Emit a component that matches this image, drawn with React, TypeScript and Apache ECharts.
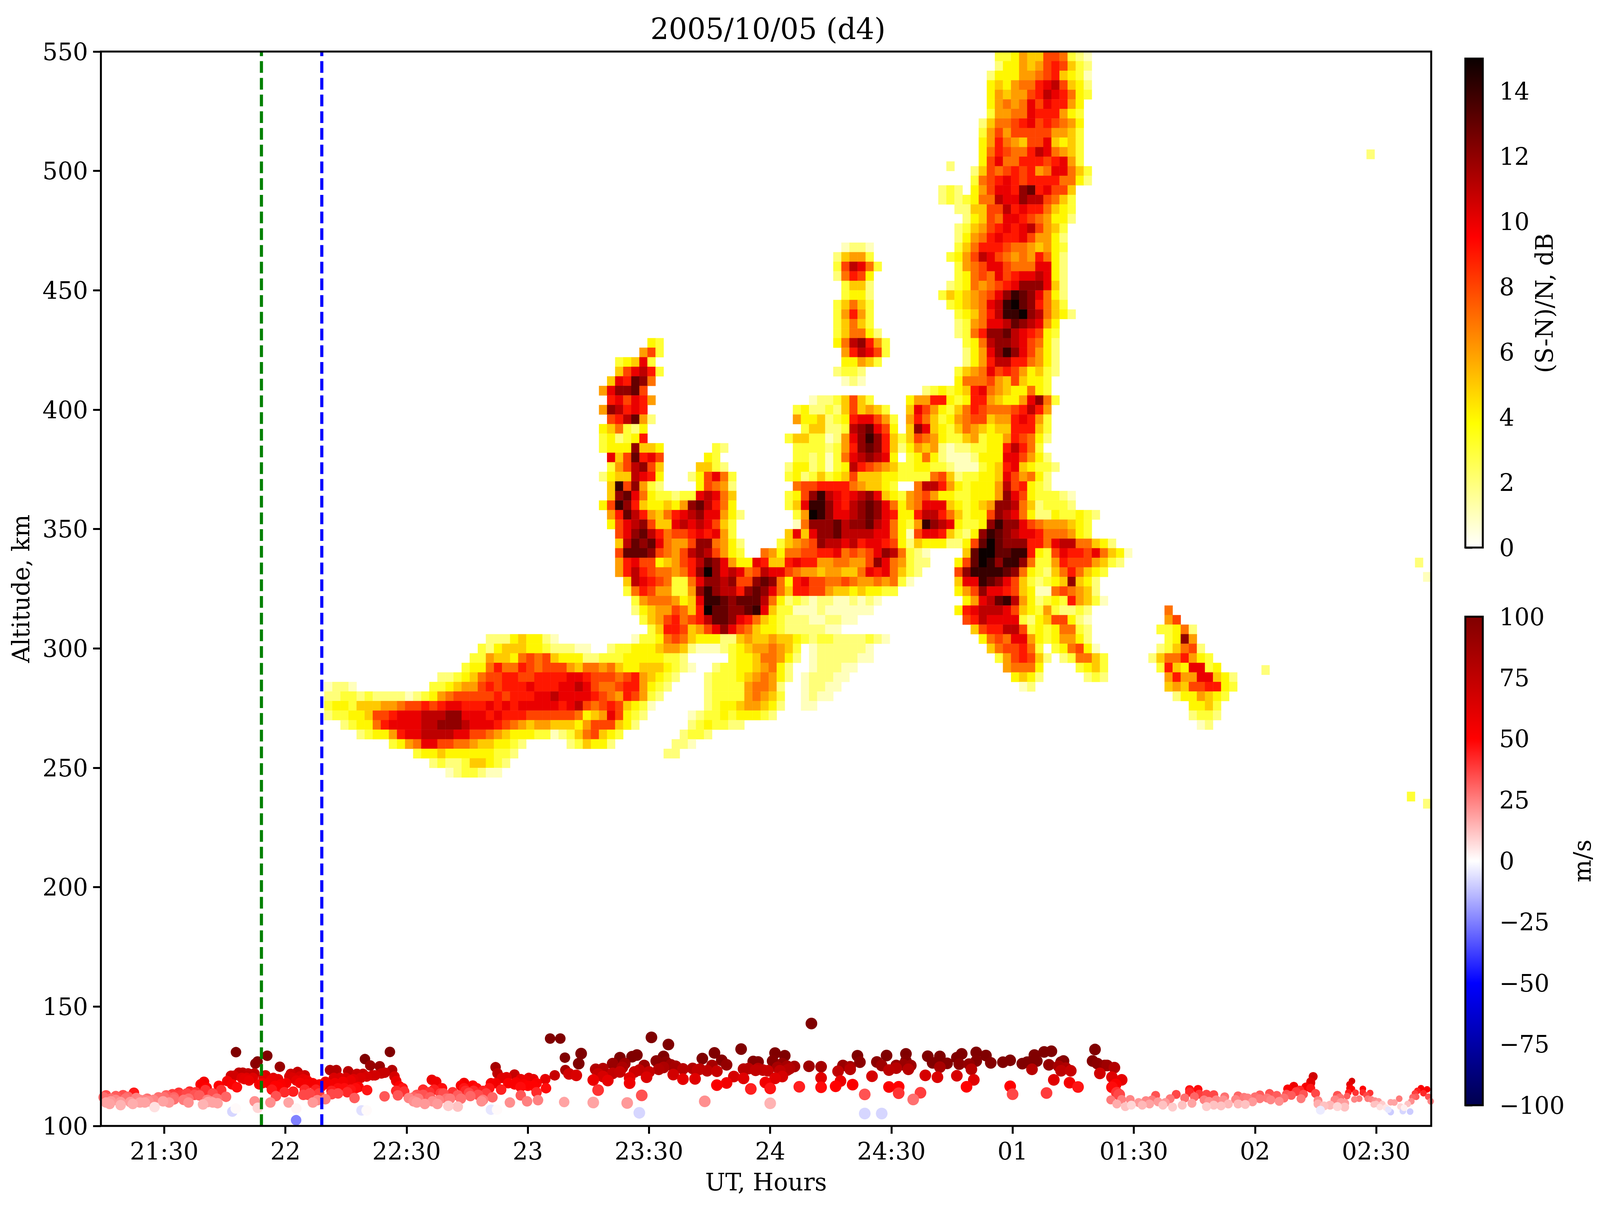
import { useEffect, useRef } from 'react'
import * as echarts from 'echarts'

const serif = 'DejaVu Serif'

// axis values
const hourMin = 21.2387
const hourMax = 26.727
const hourTicks = [21.5, 22, 22.5, 23, 23.5, 24, 24.5, 25, 25.5, 26, 26.5]
const hourLabels = ['21:30', '22', '22:30', '23', '23:30', '24', '24:30', '01', '01:30', '02', '02:30']
const snrTicks = [0, 2, 4, 6, 8, 10, 12, 14]
const velTicks = [-100, -75, -50, -25, 0, 25, 50, 75, 100]
const greenHour = 21.901
const blueHour = 22.15

// radar S/N, one entry per altitude run: altitude km, first time column, dB per column in hex ('.' = no echo)
const startHour = 22.16
const cellHours = 1 / 30
const cellKm = 4
const snrRows: [number, number, string][] = [
  [548, 83, '334655887321'], [544, 83, '244656898532'], [540, 82, '2444667895431'], [536, 82, '4546779ab8542'],
  [532, 82, '4656689ba9743'], [528, 82, '46767a8a9964'], [524, 82, '36677a999643'], [520, 81, '257789a898764'],
  [516, 81, '3686888886653'], [512, 81, '46976588a5453'], [508, 81, '4798779ba7653'], [504, 81, '48a7799989a63'],
  [500, 80, '2587898967aa753'], [496, 80, '3789a9899997742'], [492, 76, '232'], [492, 80, '468aa9cd9a885'],
  [488, 76, '2323477baacbb8753'], [484, 78, '225588b9a997543'], [480, 79, '24587aa9876442'], [476, 78, '235689a9ab8653'],
  [472, 78, '24679a99a86642'], [468, 78, '35799987765643'], [464, 77, '3468ba876769742'], [460, 78, '3678aa8777aa42'],
  [456, 78, '34787a89aaba42'], [452, 77, '23476789accca52'], [448, 76, '3545678acedca742'], [444, 77, '34567abefdc9753'],
  [440, 78, '34579beefcb7542'], [436, 78, '2367aabdcba64'], [432, 78, '2379ccdba9843'], [428, 79, '347bccba8742'],
  [424, 79, '246aceca8642'], [420, 79, '2469bb997642'], [416, 78, '3567a89864532'], [412, 78, '477786585443'],
  [408, 74, '2343459a76544743'], [404, 72, '466994349965446ac73'], [400, 72, '5a8643579877789b96'], [396, 72, '69753467885669a963'],
  [392, 72, '5ca543576545599953'], [388, 72, '587643356344698742'], [384, 72, '4656212233449b973'], [380, 72, '347421112444aa8642'],
  [376, 72, '3443321113459a54332'], [372, 72, '333785233445a86742'], [368, 73, '7bb96434446b89432'], [364, 72, '678644334446ca8433321'],
  [360, 72, '67aaa543456ccb7523332'], [356, 72, '49bb9753448cba7422433432'], [352, 72, '36ecba4334cecca87666543'],
  [348, 72, '18aa95324cedcbaa9777643'], [344, 72, '254442248dfdccc997abb77542'], [340, 72, '321'], [340, 79, '5dffddee9438a998a7541'],
  [336, 72, '322'], [336, 78, '48dfeceec733698886532'], [332, 72, '32'], [332, 78, '8ceeeedc74325797543'], [328, 72, '1'],
  [328, 78, '5aaedca8532345c542'], [324, 78, '468caa985411787652'], [320, 79, '46abdeb64234396531'], [316, 78, '49abbba8543632232'],
  [312, 79, '89baaaa324588421'], [308, 80, '5899bb834347732'], [304, 81, '4787aa64346642'], [300, 82, '5788973.347841'],
  [296, 83, '3689852.237753'], [292, 84, '67774'], [292, 93, '3453'], [288, 85, '4542'], [288, 94, '232'], [284, 86, '12'],
  // small patch after 01:30
  [316, 104, '7'], [312, 104, '68'], [308, 103, '33472'], [304, 104, '34c6'], [300, 103, '235782'], [296, 102, '25779643'],
  [292, 103, '3954aa34'], [288, 104, '6966aa542'], [284, 104, '565889943'], [280, 105, '2446543'], [276, 107, '4453'],
  [272, 107, '2332'], [268, 108, '12'],
  // blob over 24:30
  [468, 64, '1221'], [464, 63, '25663'], [460, 63, '38ba73'], [456, 63, '27984'], [452, 64, '3552'], [448, 64, '3442'],
  [444, 63, '35753'], [440, 63, '36963'], [436, 63, '35753'], [432, 63, '357742'], [428, 63, '47bc963'], [424, 64, '69ba83'],
  [420, 64, '44653'], [416, 63, '2332'], [412, 64, '121'],
  // left prong
  [428, 40, '43'], [424, 39, '683'], [420, 36, '345a3'], [416, 36, '58ab93'], [412, 35, '5a9dc7'], [408, 34, '6accd8'],
  [404, 35, '9a8a96'], [400, 34, '6cb9a9'], [396, 35, '89bd62'], [392, 34, '457324'], [388, 34, '342349'], [384, 34, '3444c554'],
  [384, 48, '32'], [380, 35, 'a58d9a8'], [380, 47, '43'], [376, 35, '368bc85'], [376, 46, '5532'], [372, 34, '2455ba94'],
  [372, 45, '248a73'], [368, 35, '5e8c632'], [368, 46, '48762'], [364, 35, '5cda743323'], [364, 45, '3aba75'],
  [360, 34, '48ec9544546cdb974'], [356, 35, '69db96579abcaa642'], [352, 35, '48abc855ababa853'], [348, 36, '8acdb97889a9a63'],
  [344, 36, '5bdcda7668cc7642'], [340, 36, '8dddc8768bcb8643'],
  // middle blobs
  [404, 60, '12235853'], [400, 58, '342232585653'], [396, 58, '64452349aa863'], [392, 59, '355223bcda84'], [388, 57, '35533126acec953'],
  [384, 58, '33332369cdc952'], [380, 58, '3323137abcba4'], [376, 57, '24423134b987653'], [372, 57, '342353458555443'],
  [368, 58, '7889999765543'], [364, 57, '348ceba9abca543'], [360, 57, '35aeeca9bcdca74'], [356, 58, '36fecaabcdca94'],
  [352, 58, '17cccdbccdba74'], [348, 57, '5a5accdbbbbaa74'], [344, 56, '35678cbbab9aa984'], [340, 54, '764778899a7878acb73'],
  [336, 36, '69a8845689bdca644a9559a996677668ca76'], [332, 36, '69b9877679cfcaba78baa8766566557a9a75'],
  [328, 37, '5ba987337accbc88cdc749a887787667673'], [324, 37, '379866336cecbb9cdca759988655454433'],
  [320, 38, '36777645aeedcdddb74232122112121'], [316, 38, '245668759fddccdea5331112111111'],
  [312, 39, '35689789bddca97543222112211'], [308, 40, '35998568aca8754432222211'],
  // low layer and wedges
  [304, 20, '222454421'], [304, 38, '13347875444225655655432332222321'], [300, 19, '32455544322211'],
  [300, 35, '233444566521112345667653'], [300, 60, '12222221'], [296, 18, '336554787854442233344444332'], [296, 50, '344577642'],
  [296, 60, '12222211'], [292, 17, '34479779878886577675445554321'], [292, 48, '2334456742'], [292, 60, '122211'],
  [288, 14, '2234578899889999aa988878965432'], [288, 47, '23334567642'], [288, 59, '122211'],
  [284, 13, '334566898999a999aaba8778996432'], [284, 0, '1221'], [284, 47, '2333367762'], [284, 59, '12211'],
  [280, 0, '22332322221234678888898999aabaaaa987698632'], [280, 47, '2333367653'], [280, 59, '1211'],
  [276, 0, '344355566788989aa999a9a9aaaaa9ab878985431'], [276, 47, '2344566542'], [276, 59, '11'],
  [272, 0, '233445889aaabbbccaaa9a9998888887456a8432'], [272, 45, '12334344432'],
  [268, 2, '234479aaaabbcccbaaa987656655546888542'], [268, 45, '2343322'],
  [264, 4, '234469aabbbbaa8876544433123578543'], [264, 44, '2332'], [260, 8, '3467aa88776554432'], [260, 30, '235442'], [260, 43, '221'],
  [256, 11, '3445444444332'], [256, 42, '22'], [252, 13, '2322355432'], [248, 15, '1233211'],
  // specks
  [507, 129, '2'], [502, 77, '2'], [336, 135, '2'], [330, 136, '1'], [291, 116, '2'], [238, 134, '3'], [235, 136, '2'],
]

// E-layer echoes: hour, altitude km, velocity m/s
const echoesEarly: [number, number, number][] = [
  [21.26, 112.8, 35], [21.3, 112.5, 32], [21.33, 112.9, 35], [21.375, 113.9, 45], [21.35, 112.2, 30], [21.385, 111.7, 25], [21.42, 110.9, 25],
  [21.476, 112, 28], [21.5, 112, 28], [21.534, 113.3, 38], [21.56, 113.9, 40], [21.57, 113, 38], [21.605, 114.4, 42], [21.63, 114.1, 40],
  [21.65, 117.4, 52], [21.664, 118.5, 55], [21.675, 116, 50], [21.67, 115, 40], [21.645, 112.8, 32], [21.7, 113.6, 35], [21.725, 116.8, 50],
  [21.735, 115, 40], [21.755, 112.2, 30], [21.76, 118.8, 55], [21.78, 117.4, 52], [21.8, 116.2, 48],
  [21.26, 109.8, 18], [21.28, 110.3, 20], [21.32, 108.7, 15], [21.32, 110, 20], [21.36, 110, 20], [21.4, 109.8, 18], [21.435, 110.3, 22],
  [21.46, 107.9, 6], [21.495, 110.3, 18], [21.52, 109.8, 20], [21.6, 109.8, 22], [21.66, 109, 15], [21.68, 110, 18], [21.72, 109.5, 18],
  [21.7, 109.8, 18], [21.6, 111.4, 28], [21.54, 111.1, 28], [21.3, 110.9, 24], [21.25, 112, 28], [21.43, 111.4, 28],
  [21.58, 110.9, 26], [21.625, 113, 34], [21.678, 110.9, 25], [21.69, 110.3, 22], [21.717, 111.4, 28], [21.593, 113.6, 36], [21.54, 112, 30],
  [21.508, 112.8, 32], [21.456, 110.9, 24], [21.4, 110.9, 24], [21.34, 111.4, 28], [21.28, 111.4, 28], [21.275, 109.2, 18], [21.37, 109.2, 16],
  [21.42, 109.8, 18],
  [21.796, 130.9, 100], [21.925, 129.4, 100], [21.876, 126.1, 95], [21.885, 127, 100], [21.977, 124.8, 90], [22.328, 128, 100], [22.431, 131, 100],
  [22.35, 125.3, 90], [22.389, 125, 90], [22.44, 123.4, 80], [22.184, 123.4, 80], [22.21, 123.4, 80], [22.259, 122.9, 78], [22.295, 121.8, 72],
  [22.32, 121.8, 72], [22.36, 121.2, 70], [22.396, 122, 72], [23.092, 136.6, 100], [23.134, 136.6, 100], [23.153, 128.6, 100],
  [23.155, 123.4, 85], [23.111, 121.2, 72], [22.867, 124.6, 85], [22.875, 122, 75], [22.945, 121.5, 72], [22.912, 120.4, 62], [23.072, 119.6, 60],
  [23.023, 119.6, 60], [22.99, 119, 58], [22.867, 117.9, 55], [22.951, 118.2, 54], [22.919, 117.9, 52], [22.984, 117.4, 52], [23.036, 117.9, 52],
  [23.075, 115.8, 48], [23.036, 114.1, 42], [22.89, 115.2, 44], [22.971, 112.8, 33], [22.997, 110.3, 25], [22.926, 109.8, 22], [23.042, 110.8, 25],
  [23.15, 110, 18], [22.737, 118, 55], [22.604, 119.3, 58], [22.622, 118.5, 56], [22.646, 115.8, 48], [22.724, 116.9, 52], [22.773, 116.9, 50],
  [22.789, 115.8, 48], [22.841, 115.8, 46], [22.815, 114.7, 44], [22.743, 114.7, 42], [22.652, 113.6, 35], [22.711, 112.8, 32], [22.757, 113.8, 36],
  [22.854, 112, 30], [22.795, 113, 35], [22.679, 111.4, 26], [22.568, 115.2, 42], [22.594, 114.1, 40], [22.597, 112, 32], [22.542, 113, 34],
  [22.509, 111.7, 24], [22.548, 111.4, 26], [22.633, 110.8, 25], [22.575, 109.2, 20], [22.627, 109.2, 20], [22.711, 108.1, 12], [22.672, 108.4, 10],
  [22.809, 110.3, 22], [22.409, 112.4, 33], [22.457, 114.7, 42], [22.49, 114.4, 40], [22.47, 116.6, 50], [22.457, 118.8, 58], [22.464, 112.8, 33],
  [22.337, 115, 46], [22.302, 116.3, 52], [22.269, 115.2, 46], [22.243, 115.8, 48], [22.285, 111.7, 32], [22.217, 113.6, 36], [22.191, 113.3, 36],
  [22.237, 118.5, 55], [22.269, 119, 58], [22.204, 117.9, 55], [22.178, 117.4, 54], [22.149, 116.6, 52], [22.126, 115.2, 44], [22.1, 113.6, 36],
  [22.113, 109.8, 20], [22.165, 111.2, 26], [22.132, 110.8, 24], [22.074, 119.6, 60], [22.087, 117.4, 54], [22.113, 117.9, 54], [22.08, 115.2, 42],
  [22.032, 114.4, 44], [21.996, 114.1, 42], [21.961, 112.5, 34], [21.944, 115.2, 45], [21.97, 116.3, 50], [22.003, 117.9, 54], [21.97, 119.6, 60],
  [21.942, 119.3, 58], [21.905, 117.9, 55], [21.938, 109.8, 22], [22.013, 109.8, 18], [21.873, 110.3, 22], [21.886, 107.6, 8], [22.045, 107.3, 2],
  [22.044, 102.4, -25], [21.781, 106, -8], [21.795, 107.3, 1], [22.314, 106.5, -6], [22.335, 106.5, 1], [22.848, 106.8, -5], [22.873, 106.8, 1],
  [21.85, 119, 58], [21.83, 119.6, 60], [21.788, 121, 68], [21.808, 122.3, 75], [21.824, 122.3, 75], [21.846, 122, 74], [21.872, 122, 74],
  [21.918, 121.2, 66], [22.022, 121.8, 70], [22.05, 122.6, 74], [22.08, 121.2, 70], [22.06, 120.7, 66], [22.016, 120.7, 66],
  [21.775, 121, 68], [21.82, 120.1, 62], [21.84, 120.1, 62], [21.866, 120.1, 62], [21.892, 117.4, 54], [21.91, 120.1, 62], [21.93, 117.9, 56],
  [21.95, 120.1, 62], [21.957, 116.8, 50], [21.98, 117.4, 52], [22.03, 120.1, 64], [22.045, 119, 60], [22.06, 118, 54], [22.09, 119, 58],
  [22.14, 117.4, 54], [22.165, 118.5, 58], [22.2, 120.1, 64], [22.225, 120.1, 64], [22.25, 120.1, 64], [22.28, 119.6, 62], [22.31, 120.1, 64],
  [22.335, 120.7, 66], [22.37, 121.2, 68], [22.41, 122.3, 72], [22.45, 120.7, 66], [22.217, 115.8, 48], [22.19, 114.7, 44], [22.255, 114.1, 42],
  [22.29, 115.8, 48], [22.074, 113, 36], [22.094, 113, 36], [22.139, 113.6, 38], [22.484, 115.8, 46], [22.529, 112, 30], [22.568, 113, 34],
  [22.613, 115.2, 44], [22.64, 113.6, 38], [22.69, 114.1, 40], [22.737, 115.8, 46], [22.776, 114.7, 42], [22.828, 113.6, 38], [22.848, 117.9, 54],
  [22.893, 120.1, 62], [22.971, 119.6, 60], [23.004, 120.1, 62], [23.023, 116.8, 50], [23, 116.8, 50], [22.97, 116.3, 48], [22.945, 117.4, 52],
  [22.665, 111.4, 28], [22.763, 112.5, 30], [22.724, 111.4, 28], [22.815, 110.9, 26], [22.607, 110.3, 22], [22.529, 110.3, 22], [22.542, 109.8, 20],
]

const echoesMid: [number, number, number][] = [
  [23.22, 130.3, 100], [23.21, 126.1, 100], [23.2, 121.2, 65], [23.17, 121.8, 68], [23.27, 119.2, 58], [23.29, 115, 40], [23.28, 123.7, 80],
  [23.31, 124, 80], [23.35, 126.1, 90], [23.38, 128.6, 100], [23.43, 129, 100], [23.45, 129.7, 100], [23.4, 126.1, 88], [23.33, 119, 60],
  [23.35, 122, 74], [23.38, 122.6, 72], [23.42, 117.9, 56], [23.42, 120.1, 62], [23.44, 122.6, 70], [23.48, 125.3, 88], [23.49, 120.4, 64],
  [23.5, 122.6, 72], [23.51, 137.1, 100], [23.58, 134.1, 100], [23.56, 129.1, 100], [23.57, 126.7, 95], [23.53, 127.2, 95], [23.54, 123.7, 80],
  [23.6, 121.5, 68], [23.61, 125, 85], [23.64, 123.9, 78], [23.64, 119.6, 60], [23.69, 119.7, 62], [23.68, 124.1, 80], [23.71, 123.8, 78],
  [23.74, 123.1, 75], [23.76, 125.3, 85], [23.72, 128.2, 100], [23.77, 130.6, 100], [23.8, 127.5, 98], [23.82, 125.6, 92], [23.78, 122.9, 72],
  [23.78, 117.1, 52], [23.82, 118, 55], [23.85, 120.7, 66], [23.89, 119.9, 62], [23.92, 115.5, 44], [23.88, 132.2, 100], [23.89, 123.8, 78],
  [23.91, 124, 78], [23.93, 127, 98], [23.95, 126.8, 98], [23.94, 123.3, 74], [23.97, 123.4, 74], [23.99, 123.1, 72], [23.98, 118.2, 55],
  [24, 115.7, 46], [24.02, 119.9, 62], [24.05, 120.7, 66], [24.02, 130.5, 100], [24.01, 127.2, 98], [24.06, 129.4, 100], [24.05, 126.1, 92],
  [24.03, 124.5, 85], [24.07, 125, 85], [24.1, 124.9, 85], [24.07, 123.4, 78], [24.12, 116.4, 44], [24.16, 125, 88], [24.17, 142.9, 100],
  [24.21, 124.8, 85], [24.21, 120.1, 62], [24.21, 116.2, 48], [24.27, 116.6, 50], [24.29, 118.8, 58], [24.28, 122.9, 75], [24.3, 125.3, 90],
  [24.33, 124.8, 85], [24.34, 117.3, 52], [24.36, 129.4, 100], [24.37, 126.7, 95], [24.39, 113.2, 34], [24.42, 120.8, 66], [24.44, 126.8, 95],
  [24.46, 125.3, 88], [24.48, 129.5, 100], [24.49, 123.4, 76], [24.52, 124.2, 78], [24.52, 125.3, 90], [24.49, 116.3, 52], [24.53, 116.4, 50],
  [24.53, 113.7, 40], [24.56, 130.2, 100], [24.56, 127.2, 98], [24.58, 125.3, 88], [24.57, 123.7, 78], [24.64, 121.2, 66], [24.62, 113.9, 38],
  [24.59, 111.1, 28], [24.65, 129.2, 100], [24.67, 126.4, 100], [24.7, 129.1, 100], [24.73, 126.2, 98], [24.7, 124.6, 84], [24.69, 120.4, 64],
  [24.77, 121, 66], [24.77, 128.6, 100], [24.79, 130.2, 100], [24.78, 125.9, 95], [24.82, 125.9, 92], [24.83, 123.7, 78], [24.85, 130.8, 100],
  [24.85, 127.2, 98], [24.84, 119.3, 62], [24.81, 116.4, 50], [24.89, 129.5, 100], [24.91, 126.4, 98], [24.96, 126.7, 100], [24.99, 127.5, 100],
  [24.99, 116.6, 50], [25, 113.3, 36], [25.04, 126.1, 100], [25.06, 126.7, 100], [25.09, 129.7, 100], [25.08, 127.2, 100], [25.08, 123.7, 78],
  [25.1, 127.2, 100], [25.13, 131, 100], [25.16, 131.3, 100], [25.15, 125.6, 92], [25.17, 119.3, 62], [25.14, 113.8, 38], [25.2, 123.1, 75],
  [25.2, 126.7, 95], [23.27, 109.8, 18], [23.41, 109.6, 20], [23.47, 112.8, 34], [23.73, 110.3, 22], [24, 109.5, 15], [23.46, 105.5, -8],
  [24.39, 105.2, -8], [24.46, 105.2, -8], [25.21, 127.2, 100], [25.19, 125, 85], [25.22, 124.2, 82], [25.24, 123.1, 72], [25.235, 118.1, 54],
  [25.27, 116.3, 46], [25.34, 132, 100], [25.33, 127.2, 98], [25.35, 126.1, 95], [25.38, 125.3, 92], [25.39, 125.3, 88], [25.42, 124.4, 80],
  [25.36, 122, 68], [25.41, 120.4, 62], [25.45, 119.3, 60], [25.425, 117.4, 52], [25.41, 116.2, 48], [25.43, 113.9, 40], [25.44, 113.1, 36],
  [23.29, 121.8, 72], [23.31, 120.7, 66], [23.39, 124.5, 82], [23.46, 123.4, 74], [23.56, 124.5, 82], [23.59, 125.6, 88], [23.7, 123.4, 74],
  [23.95, 124, 78], [24.04, 123.1, 74], [24.08, 124, 80], [24.33, 123.7, 78], [24.55, 125.6, 90],
]

const echoesTail: [number, number, number][] = [
  [25.405, 110.9, 26], [25.45, 111.1, 25], [25.485, 111.1, 24], [25.43, 109.2, 16], [25.465, 108.1, 12], [25.49, 108.7, 8], [25.59, 112.8, 34],
  [25.575, 110.9, 26], [25.52, 109.8, 20], [25.55, 110.6, 24], [25.535, 108.7, 14], [25.565, 109.2, 18], [25.6, 110.1, 20], [25.63, 109.8, 20],
  [25.62, 108.7, 12], [25.66, 107.9, 10], [25.65, 111.4, 26], [25.675, 113.2, 36], [25.7, 108.7, 12], [25.71, 111.7, 28], [25.74, 109.5, 18],
  [25.73, 115.2, 46], [25.765, 115.3, 48], [25.73, 114.1, 42], [25.75, 112.2, 30], [25.77, 113.3, 38], [25.8, 113.3, 36], [25.79, 110.9, 25],
  [25.83, 113.1, 36], [25.81, 110.3, 22], [25.84, 110.9, 24], [25.87, 110.9, 22], [25.875, 112.2, 28], [25.8, 108.1, 10], [25.83, 108.7, 12],
  [25.86, 108.4, 12], [25.89, 109.2, 14], [25.93, 109.2, 14], [25.93, 112.6, 30], [25.92, 111.1, 24], [25.955, 112, 26], [25.97, 111.7, 25],
  [25.96, 109, 12], [25.99, 110.1, 20], [26, 112.2, 28], [26.02, 113, 32], [26.02, 111.4, 26], [26.05, 111.7, 26], [26.06, 113.6, 34],
  [26.065, 110.9, 24], [26.09, 112.8, 32], [26.1, 110.3, 22], [26.12, 111.7, 28], [26.13, 113.3, 34], [26.135, 115.5, 52], [26.16, 116.6, 56],
  [26.15, 112.8, 32], [26.17, 114.4, 38], [26.185, 115, 42], [26.19, 111.4, 26], [26.2, 113.3, 34], [26.21, 116.3, 52], [26.23, 117.9, 62],
  [26.24, 120.7, 68], [26.23, 118.5, 62], [26.23, 115.8, 46], [26.25, 113.6, 36], [26.26, 110.6, 24], [26.26, 109.2, 16], [26.285, 108.4, 12],
  [26.31, 108.7, 14], [26.34, 108.1, 8], [26.33, 110.9, 24], [26.34, 112.8, 34], [26.355, 109.8, 20], [26.37, 109.5, 20], [26.37, 107.9, 12],
  [26.35, 111.7, 28], [26.27, 106.6, -4],
]

const echoesEnd: [number, number, number][] = [
  [26.38, 112.5, 32], [26.385, 114, 44], [26.39, 117.4, 60], [26.4, 118.8, 66], [26.39, 115.8, 54], [26.4, 115.5, 50], [26.415, 113.9, 40],
  [26.41, 111.1, 24], [26.43, 111.4, 26], [26.445, 115.5, 50], [26.445, 114, 42], [26.46, 112.8, 36], [26.475, 113.8, 40], [26.465, 111.4, 26],
  [26.48, 111.1, 24], [26.495, 110.6, 22], [26.51, 110.3, 20], [26.49, 109, 12], [26.5, 109.2, 12], [26.525, 109.2, 10], [26.515, 107.9, 6],
  [26.54, 107.7, 5], [26.56, 109.9, 18], [26.575, 109.8, 18], [26.595, 111.4, 26], [26.6, 108.1, 8], [26.63, 109.2, 12], [26.615, 107.6, 3],
  [26.645, 110.3, 22], [26.65, 112, 30], [26.66, 113.6, 38], [26.67, 114.7, 44], [26.685, 115.8, 52], [26.71, 115.3, 52], [26.665, 112.2, 32],
  [26.695, 113.7, 42], [26.715, 112.2, 34], [26.725, 110.3, 24], [26.56, 105.8, -10], [26.61, 106.2, -8], [26.64, 106, -10], [26.55, 106.8, -5],
]

// the browser window only gives 4096px of width, so the figure's x layout is squeezed to fit
const figWidth = 4096
const figHeight = 3088
const sx = figWidth / 4218
const plot = { left: 266 * sx, top: 132, width: 3507 * sx, height: 2751 }
const snrBar = { left: 3863 * sx, top: 150, width: 46 * sx, height: 1252 }
const velBar = { left: 3863 * sx, top: 1579, width: 46 * sx, height: 1251 }
const frameWidth = 5

const mix = (a: number[], b: number[], t: number) =>
  `rgb(${a.map((v, i) => Math.round((v + (b[i] - v) * t) * 255)).join(',')})`

// matplotlib hot_r on 0..15 dB
const hotR = (db: number) => {
  const t = 1 - Math.min(db, 15) / 15
  if (t < 0.365) return mix([0.0416, 0, 0], [1, 0, 0], t / 0.365)
  if (t < 0.746) return mix([1, 0, 0], [1, 1, 0], (t - 0.365) / 0.381)
  return mix([1, 1, 0], [1, 1, 1], (t - 0.746) / 0.254)
}

// matplotlib seismic on -100..100 m/s
const seismic = (v: number) => {
  if (v < -50) return mix([0, 0, 0.3], [0, 0, 1], (v + 100) / 50)
  if (v < 0) return mix([0, 0, 1], [1, 1, 1], (v + 50) / 50)
  if (v < 50) return mix([1, 1, 1], [1, 0, 0], v / 50)
  return mix([1, 0, 0], [0.5, 0, 0], (v - 50) / 50)
}

const App = () => {
  const chartRef = useRef<HTMLDivElement>(null)

  useEffect(() => {
    if (!chartRef.current) return
    document.body.style.margin = '0'
    const chart = echarts.init(chartRef.current, undefined, { renderer: 'svg' })

    const cells = snrRows.flatMap(([alt, col, levels]) =>
      [...levels].flatMap((ch, i) =>
        ch === '.' ? [] : [[startHour + (col + i) * cellHours, alt, parseInt(ch, 16)]]
      )
    )
    // strongest velocities go underneath, near-white dots on top
    const dots = [
      ...echoesEarly.map((p) => [...p, 27]),
      ...echoesMid.map((p) => [...p, 30]),
      ...echoesTail.map((p) => [...p, 23]),
      ...echoesEnd.map((p) => [...p, 17]),
    ].sort((a, b) => Math.abs(b[2]) - Math.abs(a[2]))

    const labelStyle = { fontFamily: serif, fontSize: 61, color: '#000' }
    const nameStyle = { fontFamily: serif, fontSize: 61, color: '#000' }
    const hiddenX = (gridIndex: number) => ({
      type: 'value', gridIndex, min: 0, max: 1, show: false,
    })
    const barAxis = (gridIndex: number, min: number, max: number, ticks: number[], name: string, nameGap: number) => ({
      type: 'value', gridIndex, min, max, position: 'right', name, nameGap, nameMoveOverlap: false,
      nameLocation: 'middle', nameRotate: 90, nameTextStyle: nameStyle,
      splitLine: { show: false },
      axisLine: { show: false },
      axisTick: { show: true, length: 18, lineStyle: { color: '#000', width: 5 }, customValues: ticks },
      axisLabel: {
        ...labelStyle, margin: 42, customValues: ticks,
        formatter: (v: number) => String(v).replace('-', '\u2212'),
      },
    })
    const marker = (hour: number, color: string) => ({
      type: 'line', xAxisIndex: 0, yAxisIndex: 0, z: 6, silent: true, showSymbol: false,
      data: [[hour, 100], [hour, 550]],
      lineStyle: { color, width: 8, type: [30, 12.8], cap: 'butt' },
    })
    const barRect = (box: typeof snrBar, stops: [number, string][]) => ({
      type: 'rect', z: 90, silent: true,
      shape: { x: box.left, y: box.top, width: box.width, height: box.height },
      style: {
        fill: new echarts.graphic.LinearGradient(0, 0, 0, 1, stops.map(([offset, color]) => ({ offset, color }))),
        stroke: '#000', lineWidth: frameWidth,
      },
    })

    chart.setOption({
      animation: false,
      backgroundColor: '#fff',
      title: {
        text: '2005/10/05 (d4)',
        left: plot.left + plot.width / 2,
        top: 32,
        textAlign: 'center',
        textStyle: { fontFamily: serif, fontSize: 74, fontWeight: 'normal', color: '#000' },
      },
      grid: [
        { ...plot },
        { ...snrBar },
        { ...velBar },
      ],
      xAxis: [
        {
          type: 'value', gridIndex: 0, min: hourMin, max: hourMax,
          name: 'UT, Hours', nameLocation: 'middle', nameGap: 113, nameMoveOverlap: false, nameTextStyle: nameStyle,
          splitLine: { show: false },
          axisLine: { show: false },
          axisTick: { show: true, length: 20, lineStyle: { color: '#000', width: 5 }, customValues: hourTicks },
          axisLabel: {
            ...labelStyle, margin: 34, customValues: hourTicks,
            formatter: (v: number) => hourLabels[hourTicks.indexOf(v)],
          },
        },
        hiddenX(1),
        hiddenX(2),
      ],
      yAxis: [
        {
          type: 'value', gridIndex: 0, min: 100, max: 550, interval: 50,
          name: 'Altitude, km', nameLocation: 'middle', nameRotate: 90, nameGap: 174, nameMoveOverlap: false, nameTextStyle: nameStyle,
          splitLine: { show: false },
          axisLine: { show: false },
          axisTick: { show: true, length: 20, lineStyle: { color: '#000', width: 5 } },
          axisLabel: { ...labelStyle, margin: 33 },
        },
        barAxis(1, 0, 15, snrTicks, '(S-N)/N, dB', 127),
        barAxis(2, -100, 100, velTicks, 'm/s', 224),
      ],
      graphic: {
        elements: [
          barRect(snrBar, [[0, '#0b0000'], [0.365, '#ff0000'], [0.746, '#ffff00'], [1, '#ffffff']]),
          barRect(velBar, [[0, '#800000'], [0.25, '#ff0000'], [0.5, '#ffffff'], [0.75, '#0000ff'], [1, '#00004d']]),
          {
            type: 'rect', z: 90, silent: true,
            shape: { x: plot.left, y: plot.top, width: plot.width, height: plot.height },
            style: { fill: 'none', stroke: '#000', lineWidth: frameWidth },
          },
        ],
      },
      series: [
        {
          type: 'custom', xAxisIndex: 0, yAxisIndex: 0, z: 2, silent: true, clip: true,
          data: cells,
          encode: { x: 0, y: 1 },
          renderItem: (_params: unknown, api: any) => {
            const t = api.value(0)
            const alt = api.value(1)
            const a = api.coord([t, alt + cellKm / 2])
            const b = api.coord([t + cellHours, alt - cellKm / 2])
            return {
              type: 'rect',
              shape: { x: a[0], y: a[1], width: b[0] - a[0] + 0.5, height: b[1] - a[1] + 0.5 },
              style: { fill: hotR(api.value(2)) },
            }
          },
        },
        {
          type: 'scatter', xAxisIndex: 0, yAxisIndex: 0, z: 4, silent: true, clip: true, progressive: 0,
          data: dots,
          symbolSize: (d: number[]) => d[3],
          itemStyle: { opacity: 1, color: (p: any) => seismic(p.data[2]) },
        },
        marker(greenHour, '#008000'),
        marker(blueHour, '#0000ff'),
      ],
    })

    return () => chart.dispose()
  }, [])

  return <div ref={chartRef} style={{ width: figWidth, height: figHeight }} />
}

export default App
